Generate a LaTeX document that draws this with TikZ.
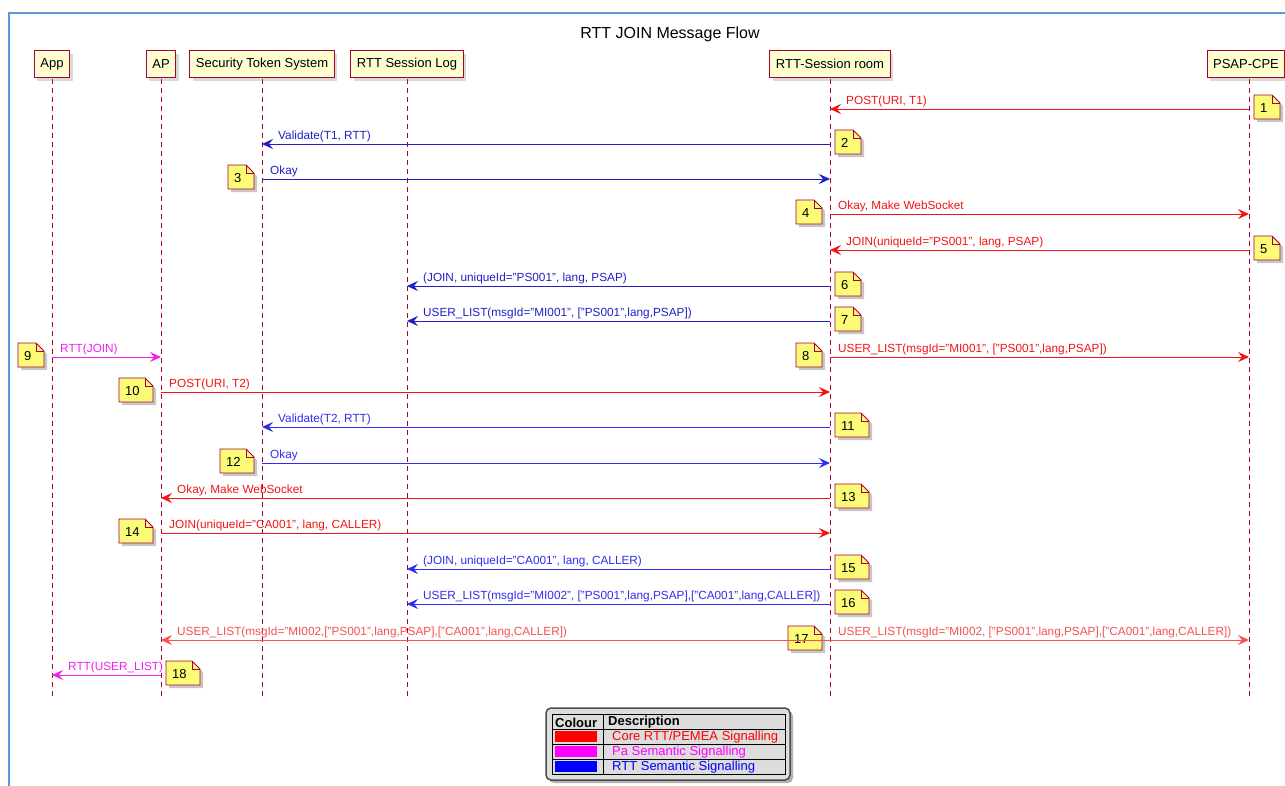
\documentclass[tikz,border=0pt]{standalone}
\usepackage{fontspec}
\setmainfont{Liberation Sans}
\usetikzlibrary{arrows.meta,shadows,calc}
\definecolor{frameblue}{HTML}{5B9BD5}
\definecolor{partfill}{HTML}{FEFECE}
\definecolor{partline}{HTML}{A80036}
\definecolor{noteyellow}{HTML}{FBFB77}
\definecolor{cred}{HTML}{F21414}
\definecolor{credlight}{HTML}{F65050}
\definecolor{cmag}{HTML}{EE22EE}
\definecolor{cblueA}{HTML}{2020C4}
\definecolor{cblueB}{HTML}{2E2EF0}
\definecolor{legbg}{HTML}{DDDDDD}
\definecolor{pureR}{HTML}{FF0000}
\definecolor{pureM}{HTML}{FF00FF}
\definecolor{pureB}{HTML}{0000FF}
\tikzset{
  partbox/.style={draw=partline, fill=partfill, line width=1.1pt, minimum height=27pt,
    inner xsep=6pt, font=\fontsize{13}{15}\selectfont,
    drop shadow={shadow xshift=3pt, shadow yshift=-3pt, opacity=0.3}},
  lifeline/.style={draw=partline, line width=0.9pt, dash pattern=on 5pt off 4pt},
  msgline/.style={line width=1pt, -{Stealth[length=11pt,width=10pt,inset=4pt]}},
  msglabel/.style={font=\fontsize{11.8}{13}\selectfont, inner sep=0pt},
  notetext/.style={font=\fontsize{13}{14}\selectfont, inner sep=0pt, anchor=west},
  legtext/.style={font=\fontsize{13}{14}\selectfont, inner sep=0pt, anchor=west},
}
% #1 name, #2 left x, #3 top y, #4 width, #5 text
\newcommand\mynote[5]{%
  \fill[black,opacity=0.22] (#2+3,#3+3) -- (#2+3+#4-8,#3+3) -- (#2+3+#4,#3+3+8) -- (#2+3+#4,#3+3+24) -- (#2+3,#3+3+24) -- cycle;
  \draw[partline, fill=noteyellow, line width=0.9pt] (#2,#3) -- (#2+#4-8,#3) -- (#2+#4,#3+8) -- (#2+#4,#3+24) -- (#2,#3+24) -- cycle;
  \draw[partline, line width=0.9pt] (#2+#4-8,#3) -- (#2+#4-8,#3+8) -- (#2+#4,#3+8);
  \node[notetext] (#1) at (#2+6,#3+13) {#5};}
% left-pointing message: #1 label name, #2 colour, #3 from (right), #4 to (left), #5 row, #6 text
\newcommand\msgleft[6]{%
  \draw[msgline,#2] (#3 |- #5) -- (#4 |- #5);
  \node[msglabel,text=#2,anchor=base west] (#1) at ($(#4 |- #5)+(16,-5)$) {#6};}
% right-pointing message
\newcommand\msgright[6]{%
  \draw[msgline,#2] (#3 |- #5) -- (#4 |- #5);
  \node[msglabel,text=#2,anchor=base west] (#1) at ($(#3 |- #5)+(8,-5)$) {#6};}
\begin{document}
\begin{tikzpicture}[x=1pt,y=-1pt]
\useasboundingbox (0,0) rectangle (1285,785);
\draw[frameblue, line width=2.5pt] (9,786) -- (9,13) -- (1286,13);
\node[font=\fontsize{16}{19}\selectfont] (title) at (670,34) {RTT JOIN Message Flow};

% lifelines
\coordinate (bot) at (0,698);
\coordinate (appT) at (52,70);
\coordinate (apT) at (161,70);
\coordinate (stsT) at (262,70);
\coordinate (logT) at (407,70);
\coordinate (roomT) at (830,70);
\coordinate (psapT) at (1249,70);
\foreach \n in {appT, apT, stsT, logT, roomT, psapT}{
  \draw[lifeline] (\n) -- (\n |- bot);
}
% participants
\node[partbox] (app) at (52,64) {App};
\node[partbox] (ap) at (161,64) {AP};
\node[partbox] (sts) at (262,64) {Security Token System};
\node[partbox] (log) at (407,64) {RTT Session Log};
\node[partbox] (room) at (830,64) {RTT-Session room};
\node[partbox] (psap) at (1246,64) {PSAP-CPE};

% rows
\foreach \i/\y in {1/109,2/144,3/179,4/214,5/250,6/286,7/321,8/357,10/392,11/427,12/463,13/498,14/533,15/569,16/604,17/640,18/675}{
  \coordinate (r\i) at (0,\y);
}

% notes
\mynote{n1}{1254}{95}{26}{1}
\mynote{n2}{835}{130}{26}{2}
\mynote{n3}{228}{165}{26}{3}
\mynote{n4}{796}{200}{26}{4}
\mynote{n5}{1254}{236}{26}{5}
\mynote{n6}{835}{272}{26}{6}
\mynote{n7}{835}{307}{26}{7}
\mynote{n8}{796}{343}{26}{8}
\mynote{n9}{18}{343}{26}{9}
\mynote{n10}{119}{378}{34}{10}
\mynote{n11}{835}{413}{34}{11}
\mynote{n12}{220}{449}{34}{12}
\mynote{n13}{835}{484}{34}{13}
\mynote{n14}{119}{519}{34}{14}
\mynote{n15}{835}{555}{34}{15}
\mynote{n16}{835}{590}{34}{16}
\mynote{n17}{788}{626}{34}{17}
\mynote{n18}{166}{661}{34}{18}

% messages
\msgleft{m1}{cred}{psapT}{roomT}{r1}{POST(URI, T1)}
\msgleft{m2}{cblueA}{roomT}{stsT}{r2}{Validate(T1, RTT)}
\msgright{m3}{cblueA}{stsT}{roomT}{r3}{Okay}
\msgright{m4}{cred}{roomT}{psapT}{r4}{Okay, Make WebSocket}
\msgleft{m5}{cred}{psapT}{roomT}{r5}{JOIN(uniqueId="PS001", lang, PSAP)}
\msgleft{m6}{cblueA}{roomT}{logT}{r6}{(JOIN, uniqueId="PS001", lang, PSAP)}
\msgleft{m7}{cblueA}{roomT}{logT}{r7}{USER\_LIST(msgId="MI001", ["PS001",lang,PSAP])}
\msgright{m8}{cred}{roomT}{psapT}{r8}{USER\_LIST(msgId="MI001", ["PS001",lang,PSAP])}
\msgright{m9}{cmag}{appT}{apT}{r8}{RTT(JOIN)}
\msgright{m10}{cred}{apT}{roomT}{r10}{POST(URI, T2)}
\msgleft{m11}{cblueB}{roomT}{stsT}{r11}{Validate(T2, RTT)}
\msgright{m12}{cblueB}{stsT}{roomT}{r12}{Okay}
\msgleft{m13}{cred}{roomT}{apT}{r13}{Okay, Make WebSocket}
\msgright{m14}{cred}{apT}{roomT}{r14}{JOIN(uniqueId="CA001", lang, CALLER)}
\msgleft{m15}{cblueB}{roomT}{logT}{r15}{(JOIN, uniqueId="CA001", lang, CALLER)}
\msgleft{m16}{cblueB}{roomT}{logT}{r16}{USER\_LIST(msgId="MI002", ["PS001",lang,PSAP],["CA001",lang,CALLER])}
\msgleft{m17a}{credlight}{roomT}{apT}{r17}{USER\_LIST(msgId="MI002,["PS001",lang,PSAP],["CA001",lang,CALLER])}
\msgright{m17b}{credlight}{roomT}{psapT}{r17}{USER\_LIST(msgId="MI002, ["PS001",lang,PSAP],["CA001",lang,CALLER])}
\msgleft{m18}{cmag}{apT}{appT}{r18}{RTT(USER\_LIST)}

% legend
\fill[black,opacity=0.3,rounded corners=5pt] (549,711) rectangle (793,783);
\draw[fill=legbg, draw=black!70, line width=1.5pt, rounded corners=5pt] (546,708) rectangle (790,780);
\draw[black, line width=0.8pt] (552,714) rectangle (785,774);
\draw[black, line width=0.8pt] (552,729) -- (785,729) (552,744) -- (785,744) (552,759) -- (785,759) (603,714) -- (603,774);
\fill[pureR] (555,731) rectangle (597,742);
\fill[pureM] (555,746) rectangle (597,757);
\fill[pureB] (555,761) rectangle (597,772);
\node[legtext,font=\fontsize{13}{14}\selectfont\bfseries] (lh1) at (555,722.5) {Colour};
\node[legtext,font=\fontsize{13}{14}\selectfont\bfseries] (lh2) at (608,722.5) {Description};
\node[legtext,text=pureR] (l1) at (612,737.5) {Core RTT/PEMEA Signalling};
\node[legtext,text=pureM] (l2) at (612,752.5) {Pa Semantic Signalling};
\node[legtext,text=pureB] (l3) at (612,767.5) {RTT Semantic Signalling};
\end{tikzpicture}
\end{document}
